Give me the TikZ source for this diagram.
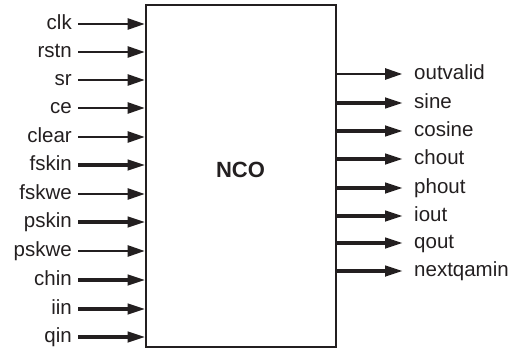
\documentclass[tikz,border=0pt]{standalone}
\usepackage{fontspec}
\setmainfont{Liberation Sans}
\usepackage{xcolor}
\usetikzlibrary{arrows.meta, positioning}
\definecolor{nco-line}{RGB}{35,31,32}

\tikzset{
  sig/.style={text=nco-line},
  inlbl/.style={sig, anchor=mid east, inner xsep=6pt},
  outlbl/.style={sig, anchor=mid west, inner xsep=12pt},
  bit/.style={draw=nco-line, line width=1.3pt, -{Triangle[length=17pt, width=11.5pt]}},
  bus/.style={bit, line width=3.8pt, -{Triangle[length=17pt, width=11.5pt, line width=0pt]}}
}

\begin{document}
\fontsize{20.5}{24}\selectfont
\begin{tikzpicture}[x=1pt, y=-1pt]
  \useasboundingbox (0,0) rectangle (511,350);

  % Core block
  \node[draw=nco-line, line width=2pt, minimum width=190pt, minimum height=341pt,
        inner sep=0pt] (nco) at (240.5,176) {};
  \node[font=\fontsize{22}{26}\selectfont\bfseries, text=nco-line] (ncolbl) at (240.5,170) {NCO};

  % Inputs
  \node[inlbl] (clk) at (78,24) {clk};
  \node[inlbl] (rstn) at (78,52) {rstn};
  \node[inlbl] (sr) at (78,80) {sr};
  \node[inlbl] (ce) at (78,108) {ce};
  \node[inlbl] (clear) at (78,137) {clear};
  \node[inlbl] (fskin) at (78,165) {fskin};
  \node[inlbl] (fskwe) at (78,194) {fskwe};
  \node[inlbl] (pskin) at (78,222) {pskin};
  \node[inlbl] (pskwe) at (78,251) {pskwe};
  \node[inlbl] (chin) at (78,280) {chin};
  \node[inlbl] (iin) at (78,309) {iin};
  \node[inlbl] (qin) at (78,337) {qin};

  \draw[bit] (clk.mid east) -- (clk.mid east -| nco.west);
  \draw[bit] (rstn.mid east) -- (rstn.mid east -| nco.west);
  \draw[bit] (sr.mid east) -- (sr.mid east -| nco.west);
  \draw[bit] (ce.mid east) -- (ce.mid east -| nco.west);
  \draw[bit] (clear.mid east) -- (clear.mid east -| nco.west);
  \draw[bus] (fskin.mid east) -- (fskin.mid east -| nco.west);
  \draw[bit] (fskwe.mid east) -- (fskwe.mid east -| nco.west);
  \draw[bus] (pskin.mid east) -- (pskin.mid east -| nco.west);
  \draw[bit] (pskwe.mid east) -- (pskwe.mid east -| nco.west);
  \draw[bus] (chin.mid east) -- (chin.mid east -| nco.west);
  \draw[bus] (iin.mid east) -- (iin.mid east -| nco.west);
  \draw[bus] (qin.mid east) -- (qin.mid east -| nco.west);

  % Outputs
  \node[outlbl] (outvalid) at (402,74) {outvalid};
  \node[outlbl] (sine) at (402,103) {sine};
  \node[outlbl] (cosine) at (402,131) {cosine};
  \node[outlbl] (chout) at (402,159) {chout};
  \node[outlbl] (phout) at (402,188) {phout};
  \node[outlbl] (iout) at (402,216) {iout};
  \node[outlbl] (qout) at (402,243) {qout};
  \node[outlbl] (nextqamin) at (402,271) {nextqamin};

  \draw[bit] (nco.east |- outvalid.mid west) -- (outvalid.mid west);
  \draw[bus] (nco.east |- sine.mid west) -- (sine.mid west);
  \draw[bus] (nco.east |- cosine.mid west) -- (cosine.mid west);
  \draw[bus] (nco.east |- chout.mid west) -- (chout.mid west);
  \draw[bus] (nco.east |- phout.mid west) -- (phout.mid west);
  \draw[bus] (nco.east |- iout.mid west) -- (iout.mid west);
  \draw[bus] (nco.east |- qout.mid west) -- (qout.mid west);
  \draw[bus] (nco.east |- nextqamin.mid west) -- (nextqamin.mid west);
\end{tikzpicture}
\end{document}
